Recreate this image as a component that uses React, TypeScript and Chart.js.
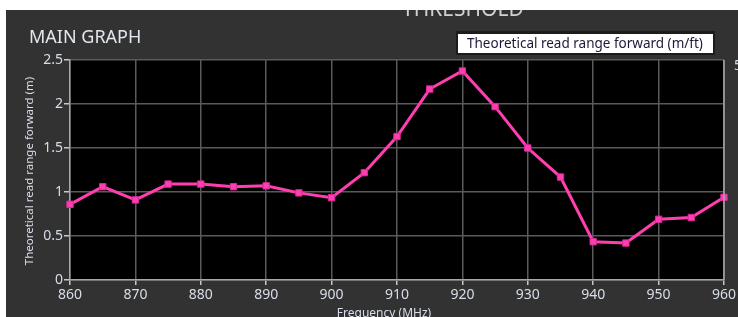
import React, { useEffect, useRef } from "react";
import { Chart, registerables } from "chart.js";

Chart.register(...registerables);

const frequencies = [860, 865, 870, 875, 880, 885, 890, 895, 900, 905, 910, 915, 920, 925, 930, 935, 940, 945, 950, 955, 960];
const readRange = [0.86, 1.06, 0.91, 1.09, 1.09, 1.06, 1.07, 0.99, 0.935, 1.22, 1.63, 2.17, 2.375, 1.97, 1.5, 1.17, 0.435, 0.42, 0.69, 0.71, 0.94];
const chartTitle = "MAIN GRAPH";
const topTitle = "THRESHOLD";
const legendLabel = "Theoretical read range forward (m/ft)";
const yTitle = "Theoretical read range forward (m)";
const xTitle = "Frequency (MHz)";
const rightAxisLabel = "5";

const FONT = "'Noto Sans', 'DejaVu Sans', sans-serif";
const LIGHT = "#d8dee9";

const overlayPlugin = {
  id: "overlay",
  afterDraw(chart: any) {
    const { ctx, chartArea } = chart;
    ctx.save();
    // right border
    ctx.strokeStyle = "#a8a8a8";
    ctx.lineWidth = 1.5;
    ctx.beginPath();
    ctx.moveTo(chartArea.right, chartArea.top);
    ctx.lineTo(chartArea.right, chartArea.bottom);
    ctx.stroke();

    // top cut title
    ctx.fillStyle = "#d0d0d0";
    ctx.font = `21px ${FONT}`;
    ctx.textBaseline = "alphabetic";
    ctx.textAlign = "left";
    ctx.fillText(topTitle, 396, 6);

    // main title
    ctx.fillStyle = "#e2e6ee";
    ctx.font = `18px ${FONT}`;
    ctx.fillText(chartTitle, 23, 33);

    // legend box
    ctx.fillStyle = "#1c1c1c";
    ctx.fillRect(450, 21, 259, 24);
    ctx.fillStyle = "#ffffff";
    ctx.fillRect(452, 24, 255, 19);
    ctx.fillStyle = "#1a1a3a";
    ctx.font = `13.5px ${FONT}`;
    ctx.textBaseline = "middle";
    ctx.fillText(legendLabel, 461, 34);

    // right axis partial label
    ctx.fillStyle = LIGHT;
    ctx.font = `14px ${FONT}`;
    ctx.fillText(rightAxisLabel, 728, 56);

    // x title
    ctx.fillStyle = LIGHT;
    ctx.font = `12px ${FONT}`;
    ctx.textAlign = "center";
    ctx.textBaseline = "top";
    ctx.fillText(xTitle, 378, 298);

    // y title
    ctx.translate(24, 161);
    ctx.rotate(-Math.PI / 2);
    ctx.textBaseline = "middle";
    ctx.font = `11.5px ${FONT}`;
    ctx.fillText(yTitle, 0, 0);
    ctx.restore();
  },
};

const plotBgPlugin = {
  id: "plotBg",
  beforeDraw(chart: any) {
    const { ctx, chartArea } = chart;
    ctx.save();
    ctx.fillStyle = "#000000";
    ctx.fillRect(chartArea.left, chartArea.top, chartArea.right - chartArea.left, chartArea.bottom - chartArea.top);
    ctx.restore();
  },
};

export default function App() {
  const ref = useRef<HTMLCanvasElement | null>(null);

  useEffect(() => {
    document.body.style.margin = "0";
    document.body.style.background = "#ffffff";
    const canvas = ref.current;
    if (!canvas) return;
    const chart = new Chart(canvas, {
      type: "line",
      data: {
        datasets: [
          {
            label: legendLabel,
            data: frequencies.map((f, i) => ({ x: f, y: readRange[i] })),
            borderColor: "#ff3fb0",
            backgroundColor: "#ff3fb0",
            borderWidth: 3,
            pointStyle: "rect",
            pointRadius: 4.5,
            pointBorderColor: "#d8289a",
            pointBorderWidth: 1,
            pointBackgroundColor: "#ff3fb0",
            tension: 0,
            clip: false as any,
          },
        ],
      },
      options: {
        responsive: false,
        animation: false,
        devicePixelRatio: 1,
        layout: { padding: { top: 50, right: 8, left: 0, bottom: 0 } },
        plugins: { legend: { display: false }, tooltip: { enabled: false }, title: { display: false } },
        scales: {
          x: {
            type: "linear",
            min: 860,
            max: 960,
            afterFit: (s: any) => {
              s.height = 37;
            },
            ticks: {
              stepSize: 10,
              color: LIGHT,
              font: { family: FONT, size: 14 },
              padding: 2,
              maxRotation: 0,
              callback: (v: any) => String(v),
            },
            grid: { color: "#5a5a5a", lineWidth: 1.5, tickColor: "#c8c8c8", tickLength: 5, tickWidth: 1.5 },
            border: { color: "#a8a8a8", width: 1.5 },
          },
          y: {
            min: 0,
            max: 2.5,
            afterFit: (s: any) => {
              s.width = 64;
            },
            ticks: {
              stepSize: 0.5,
              color: LIGHT,
              font: { family: FONT, size: 14 },
              padding: 1,
              callback: (v: any) => String(v),
            },
            grid: { color: "#5a5a5a", lineWidth: 1.5, tickColor: "#c8c8c8", tickLength: 6, tickWidth: 1.5 },
            border: { color: "#a8a8a8", width: 1.5 },
          },
        },
      },
      plugins: [plotBgPlugin, overlayPlugin],
    });
    return () => chart.destroy();
  }, []);

  return (
    <div style={{ position: "relative", width: 738, height: 317, background: "#ffffff", overflow: "hidden" }}>
      <div style={{ position: "absolute", left: 6, top: 10, width: 732, height: 307, background: "#323232" }}>
        <canvas ref={ref} width={732} height={307} style={{ display: "block", width: 732, height: 307 }} />
      </div>
    </div>
  );
}
